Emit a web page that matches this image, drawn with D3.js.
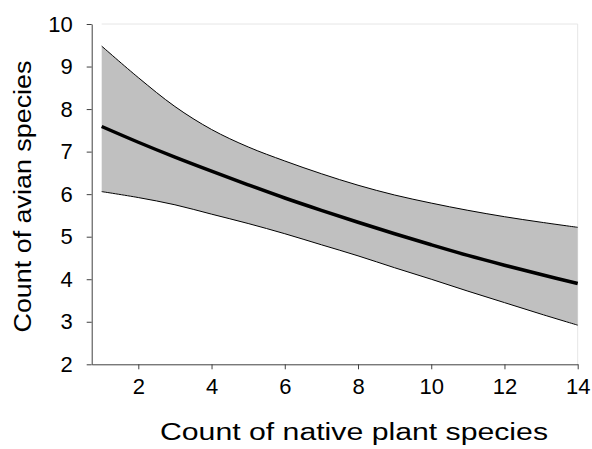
<!DOCTYPE html>
<html>
<head>
<meta charset="utf-8">
<script src="https://cdn.jsdelivr.net/npm/d3@7"></script>
<style>
  body { margin: 0; background: #fff; }
  #plot-canvas { width: 592px; height: 449px; }
  text { font-family: "Liberation Sans", Arial, sans-serif; fill: #000; }
</style>
</head>
<body>
<div id="plot-canvas"></div>
<script>
// native plant species count
const plantCounts = [1, 2, 3, 4, 5, 6, 7, 8, 9, 10, 11, 12, 13, 14];
// fitted avian species count and its band
const fitted = [7.59, 7.22, 6.87, 6.54, 6.22, 5.91, 5.62, 5.34, 5.07, 4.81, 4.56, 4.33, 4.11, 3.90];
const upperBound = [9.48, 8.74, 8.06, 7.52, 7.11, 6.78, 6.48, 6.21, 5.98, 5.79, 5.62, 5.47, 5.34, 5.22];
const lowerBound = [6.06, 5.92, 5.75, 5.53, 5.31, 5.07, 4.81, 4.55, 4.27, 4.00, 3.72, 3.45, 3.18, 2.92];
const xTicks = [2, 4, 6, 8, 10, 12, 14];
const yTicks = [2, 3, 4, 5, 6, 7, 8, 9, 10];

const plot = {left: 91.7, right: 577.7, top: 24, bottom: 364.3};

const x = d3.scaleLinear().domain([0.727, 14]).range([plot.left, plot.right]);
const y = d3.scaleLinear().domain([2, 10]).range([plot.bottom, plot.top]);

const rows = plantCounts.map(function (p, i) {
    return {p: p, fit: fitted[i], hi: upperBound[i], lo: lowerBound[i]};
});

const svg = d3.select("#plot-canvas").append("svg")
    .attr("width", 592)
    .attr("height", 449);

// faint plot-area border (top and right)
svg.append("path")
    .attr("d", "M" + x(1) + "," + y(10) + "H" + x(14) + "V" + y(2))
    .attr("fill", "none")
    .attr("stroke", "#e6e6e6")
    .attr("stroke-width", 1);

const curve = d3.curveCatmullRom.alpha(0.5);

//Draw band
svg.append("path")
    .datum(rows)
    .attr("d", d3.area().x(d => x(d.p)).y0(d => y(d.lo)).y1(d => y(d.hi)).curve(curve))
    .attr("fill", "#c0c0c0");

svg.append("path")
    .datum(rows)
    .attr("d", d3.line().x(d => x(d.p)).y(d => y(d.hi)).curve(curve))
    .attr("fill", "none").attr("stroke", "#000").attr("stroke-width", 1);

svg.append("path")
    .datum(rows)
    .attr("d", d3.line().x(d => x(d.p)).y(d => y(d.lo)).curve(curve))
    .attr("fill", "none").attr("stroke", "#000").attr("stroke-width", 1);

svg.append("path")
    .datum(rows)
    .attr("d", d3.line().x(d => x(d.p)).y(d => y(d.fit)).curve(curve))
    .attr("fill", "none").attr("stroke", "#000").attr("stroke-width", 3.5);

//Draw axes
const xAxis = svg.append("g")
    .attr("transform", "translate(0," + plot.bottom + ")")
    .call(d3.axisBottom(x).tickValues(xTicks).tickSize(5).tickSizeOuter(0).tickPadding(9));

const yAxis = svg.append("g")
    .attr("transform", "translate(" + plot.left + ",0)")
    .call(d3.axisLeft(y).tickValues(yTicks).tickSize(5).tickSizeOuter(0).tickPadding(14));

[xAxis, yAxis].forEach(function (g) {
    g.attr("font-size", 22).attr("font-family", "'Liberation Sans', Arial, sans-serif");
    g.select(".domain").attr("stroke", "#404040");
    g.selectAll(".tick line").attr("stroke", "#404040");
    g.selectAll(".tick text").attr("fill", "#000");
});

svg.append("text")
    .attr("x", 354)
    .attr("y", 440)
    .attr("text-anchor", "middle")
    .attr("font-size", 23)
    .attr("textLength", 388)
    .attr("lengthAdjust", "spacingAndGlyphs")
    .text("Count of native plant species");

svg.append("text")
    .attr("transform", "translate(31,196.5) rotate(-90)")
    .attr("text-anchor", "middle")
    .attr("font-size", 23)
    .attr("textLength", 272)
    .attr("lengthAdjust", "spacingAndGlyphs")
    .text("Count of avian species");
</script>
</body>
</html>
